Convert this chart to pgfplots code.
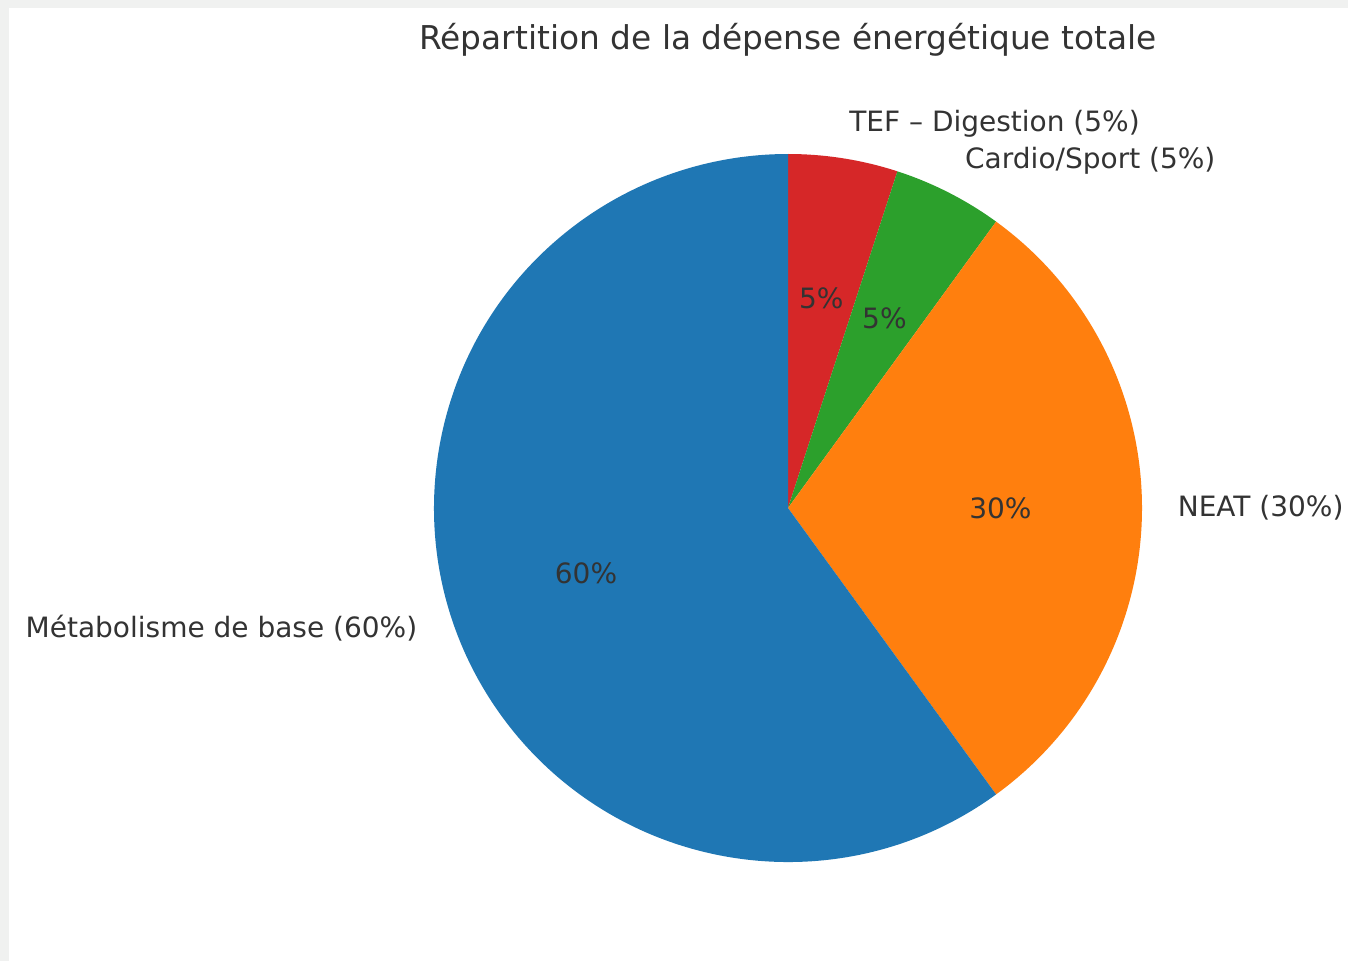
\documentclass[border=0pt]{standalone}
\usepackage{fontspec}
\setmainfont{DejaVu Sans}
\usepackage{pgfplots}
\pgfplotsset{compat=1.18}
\definecolor{tabblue}{HTML}{1F77B4}
\definecolor{taborange}{HTML}{FF7F0E}
\definecolor{tabgreen}{HTML}{2CA02C}
\definecolor{tabred}{HTML}{D62728}
\definecolor{txt}{HTML}{333333}
\definecolor{framegray}{RGB}{240,241,240}
% values (percent), clockwise from the top
\def\vTEF{5}
\def\vCardio{5}
\def\vNEAT{30}
\def\vBase{60}
\begin{document}
\begin{tikzpicture}
\pgfmathsetmacro\aA{90}
\pgfmathsetmacro\aB{\aA-3.6*\vTEF}
\pgfmathsetmacro\aC{\aB-3.6*\vCardio}
\pgfmathsetmacro\aD{\aC-3.6*\vNEAT}
\pgfmathsetmacro\aE{\aD-3.6*\vBase}
\pgfmathsetmacro\mA{(\aA+\aB)/2}
\pgfmathsetmacro\mB{(\aB+\aC)/2}
\pgfmathsetmacro\mC{(\aC+\aD)/2}
\pgfmathsetmacro\mD{(\aD+\aE)/2}
\begin{axis}[x=177pt,y=177pt,
  xmin=-2.22599, xmax=1.58192, ymin=-1.27966, ymax=1.43503,
  hide axis, clip=false]
\fill[framegray] (axis cs:-2.22599,-1.27966) rectangle (axis cs:1.58192,1.43503);
\fill[white] (axis cs:{-2.22599+9/354},-1.27966) rectangle (axis cs:1.58192,{1.43503-8/354});
\addplot[draw=none] coordinates {(0,0)};
\fill[tabred] (axis cs:0,0) -- (axis cs:{cos(\aA)},{sin(\aA)}) arc[start angle=\aA, end angle=\aB, radius=177pt] -- cycle;
\fill[tabgreen] (axis cs:0,0) -- (axis cs:{cos(\aB)},{sin(\aB)}) arc[start angle=\aB, end angle=\aC, radius=177pt] -- cycle;
\fill[taborange] (axis cs:0,0) -- (axis cs:{cos(\aC)},{sin(\aC)}) arc[start angle=\aC, end angle=\aD, radius=177pt] -- cycle;
\fill[tabblue] (axis cs:0,0) -- (axis cs:{cos(\aD)},{sin(\aD)}) arc[start angle=\aD, end angle=\aE, radius=177pt] -- cycle;
% outer labels
\tikzset{lab/.style={text=txt, font=\fontsize{14}{16}\selectfont, inner sep=0pt}}
\node[lab, anchor=west] at (axis cs:{1.1*cos(\mA)},{1.1*sin(\mA)}) {TEF – Digestion (5\%)};
\node[lab, anchor=west] at (axis cs:{1.1*cos(\mB)},{1.1*sin(\mB)}) {Cardio/Sport (5\%)};
\node[lab, anchor=west] at (axis cs:{1.1*cos(\mC)},{1.1*sin(\mC)}) {NEAT (30\%)};
\node[lab, anchor=east] at (axis cs:{1.1*cos(\mD)},{1.1*sin(\mD)}) {Métabolisme de base (60\%)};
% inner percentages
\node[lab] at (axis cs:{0.6*cos(\mA)},{0.6*sin(\mA)}) {5\%};
\node[lab] at (axis cs:{0.6*cos(\mB)},{0.6*sin(\mB)}) {5\%};
\node[lab] at (axis cs:{0.6*cos(\mC)},{0.6*sin(\mC)}) {30\%};
\node[lab] at (axis cs:{0.6*cos(\mD)},{0.6*sin(\mD)}) {60\%};
% title
\node[text=txt, font=\fontsize{16.4}{19}\selectfont, inner sep=0pt] at (axis cs:0,{(508-40)/354}) {Répartition de la dépense énergétique totale};
\end{axis}
\end{tikzpicture}
\end{document}
